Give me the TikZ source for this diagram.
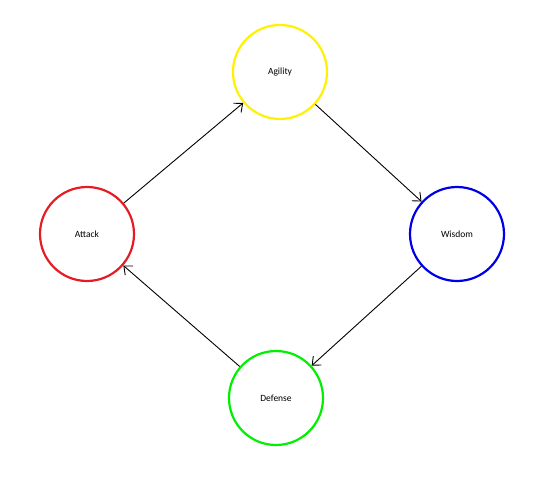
\documentclass[tikz,border=0pt]{standalone}
\usepackage{fontspec}
\setmainfont{Carlito}
\usetikzlibrary{positioning}
\usetikzlibrary{arrows.meta, automata}
\usepackage{xcolor}
\definecolor{atk}{RGB}{228,28,36}
\definecolor{agi}{RGB}{255,242,0}
\definecolor{wis}{RGB}{0,0,230}
\definecolor{dfn}{RGB}{0,240,0}

\begin{document}
\begin{tikzpicture}[x=1pt, y=1pt, main/.style = {draw, circle, line width=2.2pt, minimum size=94pt, inner sep=0pt, font=\fontsize{9.5}{11}\selectfont}, link/.style = {-{Straight Barb[length=7pt, width=12pt]}, line width=0.9pt}]
\useasboundingbox (0,0) rectangle (552,480);
\node[main, agi] (agility) at (280,408) {\textcolor{black}{Agility}};
\node[main, atk] (attack) at (87,246) {\textcolor{black}{Attack}};
\node[main, wis] (wisdom) at (457,246) {\textcolor{black}{Wisdom}};
\node[main, dfn] (defense) at (276,82) {\textcolor{black}{Defense}};
\path (attack) edge [link] (agility);
\path (agility) edge [link] (wisdom);
\path (wisdom) edge [link] (defense);
\path (defense) edge [link] (attack);
\end{tikzpicture}
\end{document}
